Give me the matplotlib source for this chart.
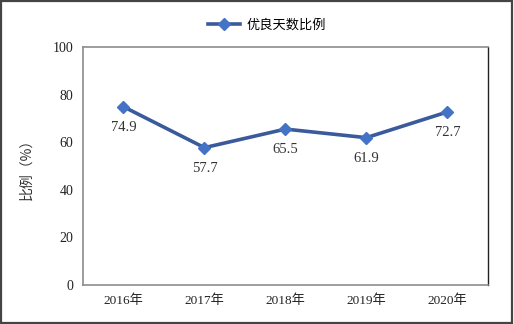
import matplotlib
matplotlib.use("Agg")
import matplotlib.pyplot as plt
from matplotlib.lines import Line2D
from matplotlib.patches import Rectangle

plt.rcParams['font.family'] = ['Liberation Serif', 'Noto Sans CJK SC', 'DejaVu Sans']

years = ["2016年", "2017年", "2018年", "2019年", "2020年"]
ratios = [74.9, 57.7, 65.5, 61.9, 72.7]
yticks = [0, 20, 40, 60, 80, 100]
series_name = "优良天数比例"

fig = plt.figure(figsize=(5.14, 3.24), dpi=100)
ax = fig.add_axes([0.1615, 0.1204, 0.7875, 0.7346])

x = list(range(len(years)))
ax.plot(x, ratios, color="#3A5A9C", lw=2.6, marker="D", ms=6.5,
        markerfacecolor="#4472C4", markeredgecolor="#4472C4", zorder=3)

for xi, v in zip(x, ratios):
    ax.annotate(f"{v:.1f}", (xi, v), xytext=(0, -15), textcoords="offset points",
                ha="center", va="center", fontsize=10.5, color="#333333")

ax.set_xlim(-0.5, len(years) - 0.5)
ax.set_ylim(0, 100)
ax.set_yticks(yticks)
ax.set_xticks(x)
ax.set_xticklabels(years, fontsize=9.5, color="#222222")
ax.set_yticklabels([str(t) for t in yticks], fontsize=10, color="#222222")
ax.tick_params(length=0, pad=7)

for side in ("left", "top", "bottom"):
    ax.spines[side].set_color("#8C8C8C")
    ax.spines[side].set_linewidth(1.2)
ax.spines["right"].set_color("#222222")
ax.spines["right"].set_linewidth(1.0)

ax.set_ylabel("比例（%）", fontsize=10, color="#333333", labelpad=14,
              family=['Noto Sans CJK SC', 'DejaVu Sans'])

handle = Line2D([], [], color="#3A5A9C", lw=2.6, marker="D", ms=6,
                markerfacecolor="#4472C4", markeredgecolor="#4472C4")
fig.legend([handle], [series_name], loc="center", bbox_to_anchor=(0.52, 0.922),
           frameon=False, fontsize=9.5, handlelength=2.4, handletextpad=0.5,
           prop={'family': ['Noto Sans CJK SC', 'DejaVu Sans'], 'size': 9.5})

fig.patches.append(Rectangle((0.002, 0.004), 0.994, 0.992, transform=fig.transFigure,
                             fill=False, edgecolor="#444444", lw=1.6))

fig.savefig("out.png", dpi=100)
